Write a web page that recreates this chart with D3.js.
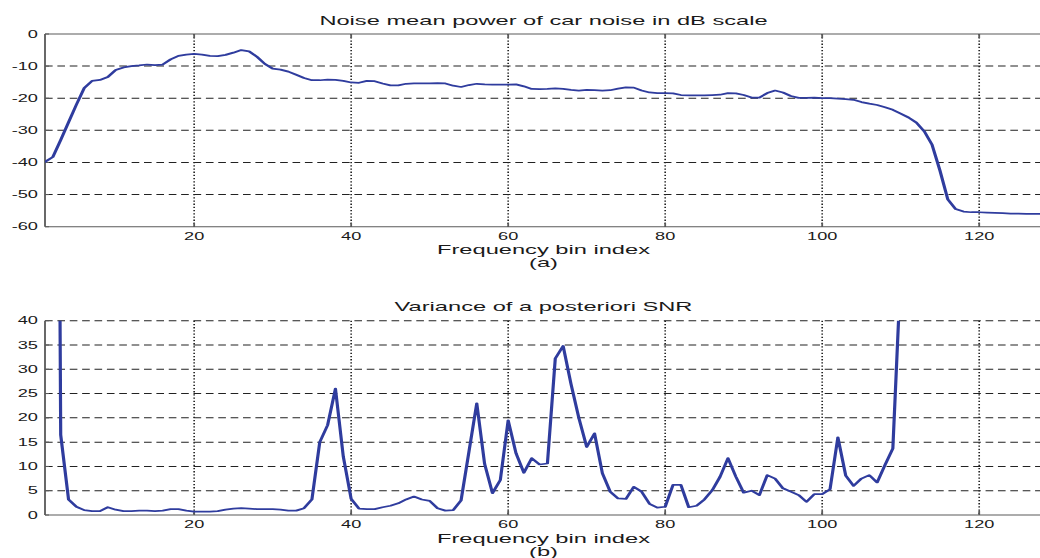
<!DOCTYPE html>
<html>
<head>
<meta charset="utf-8">
<script src="https://cdn.jsdelivr.net/npm/d3@7"></script>
<style>
  html, body { margin: 0; padding: 0; background: #fff; }
  svg { display: block; }
  text { font-family: "Liberation Sans", Arial, Helvetica, sans-serif; fill: #1a1a1a; }
</style>
</head>
<body>
<svg id="chart" width="1040" height="558"></svg>
<script>
// Frequency bins 1..128 (car noise mean power, dB)
const noisePowerDb = [
  -39.8, -38.3, -33.0, -27.5, -22.0, -16.8, -14.6, -14.3, -13.4, -11.2,
  -10.4, -10.0, -9.8, -9.5, -9.7, -9.5, -7.9, -6.8, -6.4, -6.2,
  -6.4, -6.8, -6.9, -6.5, -5.8, -5.0, -5.4, -7.1, -9.3, -10.8,
  -11.1, -11.7, -12.7, -13.7, -14.4, -14.4, -14.2, -14.3, -14.6, -15.1,
  -15.2, -14.6, -14.7, -15.4, -16.0, -16.0, -15.5, -15.4, -15.4, -15.4,
  -15.3, -15.4, -16.1, -16.5, -15.9, -15.5, -15.7, -15.8, -15.8, -15.8,
  -15.7, -16.3, -17.1, -17.2, -17.1, -16.9, -17.1, -17.4, -17.6, -17.4,
  -17.5, -17.6, -17.5, -17.0, -16.6, -16.7, -17.6, -18.2, -18.4, -18.4,
  -18.5, -19.0, -19.1, -19.1, -19.1, -19.0, -18.9, -18.4, -18.5, -19.0,
  -19.8, -19.8, -18.4, -17.6, -18.2, -19.3, -19.9, -19.9, -19.8, -20.0,
  -20.0, -20.1, -20.3, -20.5, -21.2, -21.7, -22.1, -22.8, -23.6, -24.8,
  -26.0, -27.6, -30.3, -34.5, -42.5, -51.5, -54.5, -55.3, -55.5, -55.5,
  -55.6, -55.7, -55.8, -55.9, -55.9, -56.0, -56.0, -56.0
];

// Variance of the a posteriori SNR, bins 1..110 (values above 40 run off the axes)
const snrVariance = [
  280, 300, 16.5, 3.2, 1.7, 1.0, 0.8, 0.8, 1.6, 1.1,
  0.8, 0.8, 0.9, 0.9, 0.8, 0.9, 1.2, 1.2, 0.9, 0.7,
  0.7, 0.7, 0.8, 1.1, 1.3, 1.4, 1.3, 1.2, 1.2, 1.2,
  1.1, 0.9, 0.9, 1.4, 3.2, 15.0, 18.5, 26.0, 12.0, 3.3,
  1.3, 1.2, 1.2, 1.6, 1.9, 2.4, 3.2, 3.8, 3.2, 2.9,
  1.4, 0.9, 1.0, 3.0, 13.0, 23.0, 10.5, 4.5, 7.2, 19.5,
  12.7, 8.7, 11.7, 10.4, 10.6, 32.2, 34.8, 27.0, 20.0, 14.0,
  16.8, 8.6, 4.8, 3.4, 3.3, 5.8, 4.8, 2.3, 1.5, 1.7,
  6.2, 6.2, 1.6, 1.9, 3.2, 5.1, 7.9, 11.7, 7.9, 4.6,
  5.0, 4.1, 8.2, 7.5, 5.5, 4.8, 4.1, 2.7, 4.3, 4.3,
  5.3, 16.0, 8.1, 6.0, 7.5, 8.2, 6.7, 10.3, 13.7, 50.0
];

const xTicks = [20, 40, 60, 80, 100, 120];
const yTicksPower = [0, -10, -20, -30, -40, -50, -60];
const yTicksVariance = [0, 5, 10, 15, 20, 25, 30, 35, 40];

const titles = ["Noise mean power of car noise in dB scale", "Variance of a posteriori SNR"];
const xLabel = "Frequency bin index";
const panelTags = ["(a)", "(b)"];

// The figure is drawn in a narrow coordinate frame and widened horizontally.
const SX = 1.82;
const svg = d3.select("#chart");
const root = svg.append("g").attr("transform", `scale(${SX},1)`);

const x = d3.scaleLinear().domain([1, 128]).range([45 / SX, 1042 / SX]);
const LINE = "#2f3c9e";

function panel(opts) {
  const { values, yDomain, yTop, yBottom, yTicks, title, titleY, tag, topBox, id, tickY, labelY, tagY } = opts;
  const y = d3.scaleLinear().domain(yDomain).range([yBottom, yTop]);
  const g = root.append("g");
  const x0 = x.range()[0], x1 = x.range()[1];

  g.append("clipPath").attr("id", id)
    .append("rect").attr("x", x0).attr("y", yTop).attr("width", x1 - x0).attr("height", yBottom - yTop);

  // horizontal dashed grid
  g.selectAll(".hg").data(yTicks.filter(t => t !== yDomain[0] && (t !== yDomain[1] || !topBox)))
    .join("line")
    .attr("x1", x0).attr("x2", x1)
    .attr("y1", d => y(d)).attr("y2", d => y(d))
    .attr("stroke", "#222").attr("stroke-width", 1)
    .attr("stroke-dasharray", "4.2,2.6");

  // vertical dotted grid
  g.selectAll(".vg").data(xTicks).join("line")
    .attr("x1", d => x(d)).attr("x2", d => x(d))
    .attr("y1", yTop).attr("y2", yBottom)
    .attr("stroke", "#222").attr("stroke-width", 0.9)
    .attr("stroke-dasharray", "1.3,1.9");

  // axis box lines
  const axisColor = "#5a5a5a";
  g.append("line").attr("x1", x0).attr("x2", x0).attr("y1", yTop).attr("y2", yBottom)
    .attr("stroke", axisColor).attr("stroke-width", 1);
  g.append("line").attr("x1", x0).attr("x2", x1).attr("y1", yBottom).attr("y2", yBottom)
    .attr("stroke", axisColor).attr("stroke-width", 1);
  if (topBox) {
    g.append("line").attr("x1", x0).attr("x2", x1).attr("y1", yTop).attr("y2", yTop)
      .attr("stroke", axisColor).attr("stroke-width", 1);
    g.selectAll(".tt").data(xTicks).join("line")
      .attr("x1", d => x(d)).attr("x2", d => x(d)).attr("y1", yTop).attr("y2", yTop + 4)
      .attr("stroke", axisColor).attr("stroke-width", 1);
  }
  // inward ticks
  g.selectAll(".bt").data(xTicks).join("line")
    .attr("x1", d => x(d)).attr("x2", d => x(d)).attr("y1", yBottom).attr("y2", yBottom - 4)
    .attr("stroke", axisColor).attr("stroke-width", 1);
  g.selectAll(".lt").data(yTicks).join("line")
    .attr("x1", x0).attr("x2", x0 + 2.2).attr("y1", d => y(d)).attr("y2", d => y(d))
    .attr("stroke", axisColor).attr("stroke-width", 1);

  // tick labels
  g.selectAll(".xl").data(xTicks).join("text")
    .attr("x", d => x(d)).attr("y", tickY)
    .attr("text-anchor", "middle").attr("font-size", 10).text(d => d);
  g.selectAll(".yl").data(yTicks).join("text")
    .attr("x", 38 / SX).attr("y", d => y(d)).attr("dy", "0.36em")
    .attr("text-anchor", "end").attr("font-size", 10).text(d => d);

  // series
  const line = d3.line().x((d, i) => x(i + 1)).y(d => y(d));
  g.append("path").datum(values)
    .attr("clip-path", `url(#${id})`)
    .attr("d", line)
    .attr("fill", "none").attr("stroke", LINE).attr("stroke-width", 1.75)
    .attr("stroke-linejoin", "round").attr("stroke-linecap", "round");

  // titles and labels
  const cx = (x0 + x1) / 2;
  g.append("text").attr("x", cx).attr("y", titleY).attr("text-anchor", "middle")
    .attr("font-size", 13).text(title);
  g.append("text").attr("x", cx).attr("y", labelY).attr("text-anchor", "middle")
    .attr("font-size", 13).text(xLabel);
  g.append("text").attr("x", cx).attr("y", tagY).attr("text-anchor", "middle")
    .attr("font-size", 13).text(tag);
}

panel({
  id: "clipA", values: noisePowerDb, yDomain: [-60, 0], yTop: 34, yBottom: 226.7,
  yTicks: yTicksPower, title: titles[0], titleY: 25.5, tag: panelTags[0], topBox: true,
  tickY: 240, labelY: 254.5, tagY: 267.5
});
panel({
  id: "clipB", values: snrVariance, yDomain: [0, 40], yTop: 320.7, yBottom: 515,
  yTicks: yTicksVariance, title: titles[1], titleY: 311, tag: panelTags[1], topBox: false,
  tickY: 528, labelY: 543, tagY: 556
});
</script>
</body>
</html>
